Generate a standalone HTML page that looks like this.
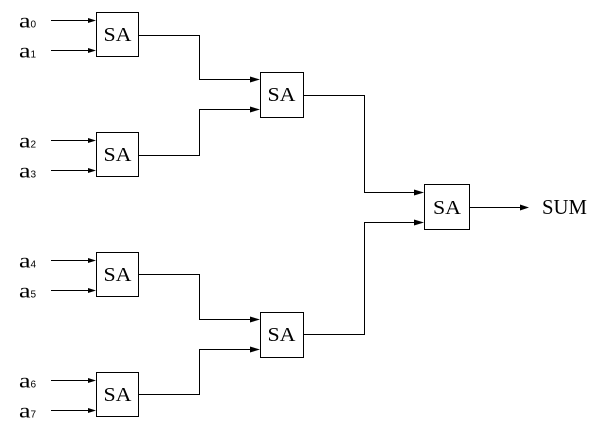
<!DOCTYPE html>
<html>
<head>
<meta charset="utf-8">
<style>
html,body{margin:0;padding:0;background:#fff;}
svg{display:block;}
</style>
</head>
<body>
<svg width="608" height="428" viewBox="0 0 608 428" xmlns="http://www.w3.org/2000/svg">
<g fill="none" stroke="#000" stroke-width="1">
  <rect x="96.5" y="12.5" width="42" height="44"/>
  <rect x="96.5" y="132.5" width="42" height="44"/>
  <rect x="96.5" y="252.5" width="42" height="44"/>
  <rect x="96.5" y="372.5" width="42" height="44"/>
  <rect x="260.5" y="72.5" width="43" height="45"/>
  <rect x="260.5" y="312.5" width="43" height="45"/>
  <rect x="424.5" y="184.5" width="45" height="45"/>
  <path d="M51 20.5H90 M51 50.5H90 M51 140.5H90 M51 170.5H90 M51 260.5H90 M51 290.5H90 M51 380.5H90 M51 410.5H90"/>
  <path d="M139 35.5H199.5V79.5H252"/>
  <path d="M139 155.5H199.5V109.5H252"/>
  <path d="M139 274.5H199.5V319.5H252"/>
  <path d="M139 394.5H199.5V349.5H252"/>
  <path d="M304 95.5H364.5V192.5H416"/>
  <path d="M304 334.5H364.5V222.5H416"/>
  <path d="M470 207.5H521"/>
</g>
<g fill="#000">
  <polygon points="88,18 96,20.5 88,23"/>
  <polygon points="88,48 96,50.5 88,53"/>
  <polygon points="88,138 96,140.5 88,143"/>
  <polygon points="88,168 96,170.5 88,173"/>
  <polygon points="88,258 96,260.5 88,263"/>
  <polygon points="88,288 96,290.5 88,293"/>
  <polygon points="88,378 96,380.5 88,383"/>
  <polygon points="88,408 96,410.5 88,413"/>
  <polygon points="250,76.5 260,79.5 250,82.5"/>
  <polygon points="250,106.5 260,109.5 250,112.5"/>
  <polygon points="250,316.5 260,319.5 250,322.5"/>
  <polygon points="250,346.5 260,349.5 250,352.5"/>
  <polygon points="414,189.5 424,192.5 414,195.5"/>
  <polygon points="414,219.5 424,222.5 414,225.5"/>
  <polygon points="520,204.5 529,207.5 520,210.5"/>
</g>

<g font-family="'Liberation Serif', 'DejaVu Serif', serif" font-size="20" fill="#000">
  <text x="103.5" y="41" textLength="28" lengthAdjust="spacingAndGlyphs">SA</text>
  <text x="103.5" y="161" textLength="28" lengthAdjust="spacingAndGlyphs">SA</text>
  <text x="103.5" y="281" textLength="28" lengthAdjust="spacingAndGlyphs">SA</text>
  <text x="103.5" y="401" textLength="28" lengthAdjust="spacingAndGlyphs">SA</text>
  <text x="267.5" y="101" textLength="28" lengthAdjust="spacingAndGlyphs">SA</text>
  <text x="267.5" y="341" textLength="28" lengthAdjust="spacingAndGlyphs">SA</text>
  <text x="433" y="214" textLength="28" lengthAdjust="spacingAndGlyphs">SA</text>
  <text x="542" y="214" font-size="21" textLength="45" lengthAdjust="spacingAndGlyphs">SUM</text>
</g>

<g font-family="'Liberation Serif', 'DejaVu Serif', serif" font-size="20" fill="#000">
  <text x="19" y="27.5" textLength="11.5" lengthAdjust="spacingAndGlyphs">a</text>
  <text x="19" y="57.5" textLength="11.5" lengthAdjust="spacingAndGlyphs">a</text>
  <text x="19" y="147.5" textLength="11.5" lengthAdjust="spacingAndGlyphs">a</text>
  <text x="19" y="177.5" textLength="11.5" lengthAdjust="spacingAndGlyphs">a</text>
  <text x="19" y="267.5" textLength="11.5" lengthAdjust="spacingAndGlyphs">a</text>
  <text x="19" y="297.5" textLength="11.5" lengthAdjust="spacingAndGlyphs">a</text>
  <text x="19" y="387.5" textLength="11.5" lengthAdjust="spacingAndGlyphs">a</text>
  <text x="19" y="417.5" textLength="11.5" lengthAdjust="spacingAndGlyphs">a</text>
</g>
<g font-family="'Liberation Sans', 'DejaVu Sans', sans-serif" font-size="10" fill="#000">
  <text x="30.5" y="27.5">0</text>
  <text x="30.5" y="57.5">1</text>
  <text x="30.5" y="147.5">2</text>
  <text x="30.5" y="177.5">3</text>
  <text x="30.5" y="267.5">4</text>
  <text x="30.5" y="297.5">5</text>
  <text x="30.5" y="387.5">6</text>
  <text x="30.5" y="417.5">7</text>
</g>
</svg>
</body>
</html>
